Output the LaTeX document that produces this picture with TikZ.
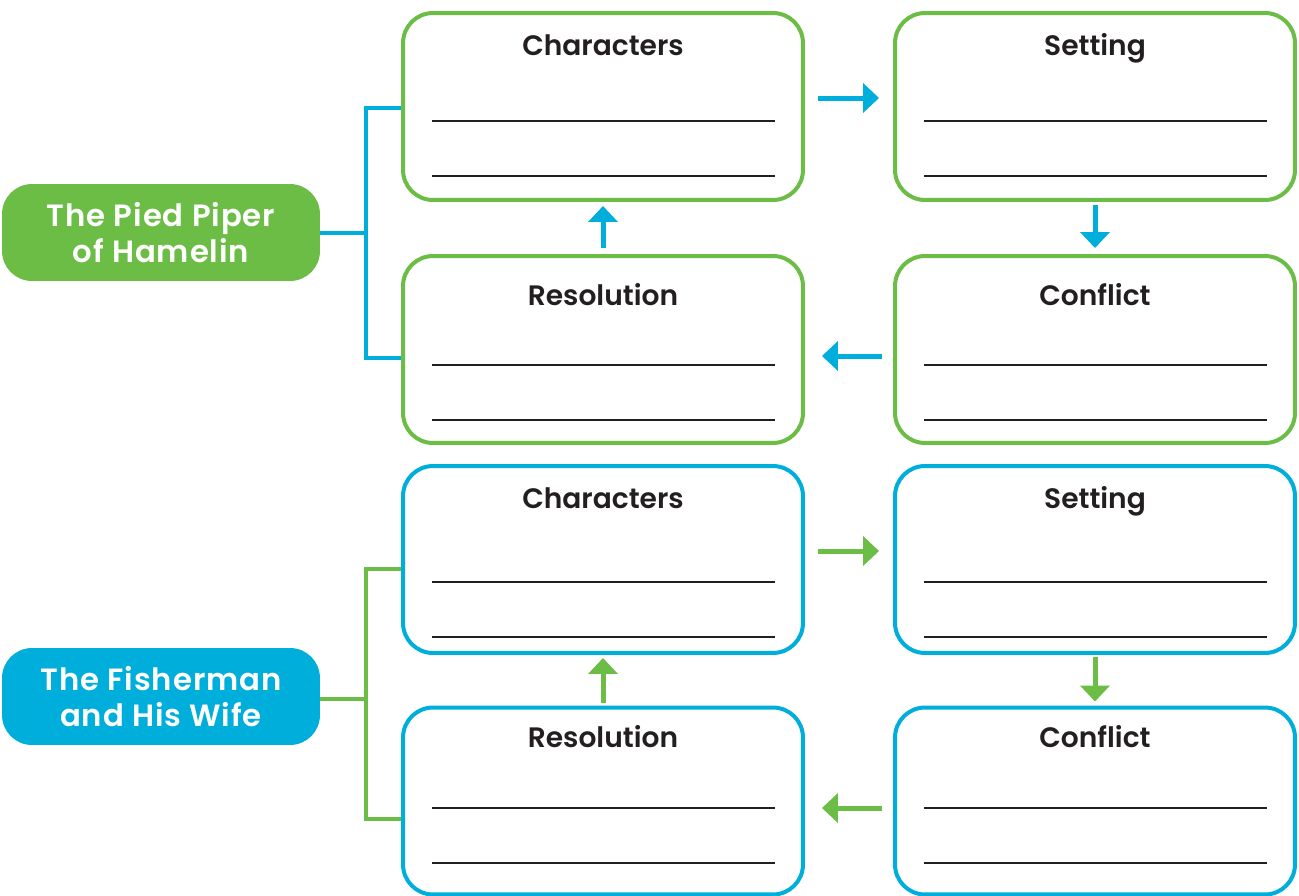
\documentclass[tikz,border=0pt]{standalone}
\usepackage{fontspec}
\setmainfont{Poppins}[BoldFont={Poppins SemiBold}]
\usetikzlibrary{arrows.meta,positioning}

\definecolor{piedgreen}{HTML}{6CBD45}
\definecolor{fishblue}{HTML}{00AEDB}
\definecolor{inkdark}{HTML}{231F20}

\tikzset{
  storybox/.style={draw=#1, line width=0.08cm, rounded corners=0.6cm,
    minimum width=8cm, minimum height=3.74cm, fill=white},
  tale/.style={fill=#1, rounded corners=0.6cm, minimum width=6.36cm,
    minimum height=1.94cm, text=white, align=center,
    font=\bfseries\fontsize{17.5}{20.5}\selectfont\addfontfeature{LetterSpace=3}},
  boxhead/.style={text=inkdark, anchor=base, font=\bfseries\fontsize{16}{18}\selectfont},
  writeline/.style={inkdark, line width=0.04cm},
  flowarrow/.style={draw=#1, line width=0.1cm,
    -{Triangle[length=0.32cm, width=0.58cm]}},
  bracket/.style={draw=#1, line width=0.09cm},
}

\begin{document}
\begin{tikzpicture}[x=0.02cm, y=-0.02cm]
\useasboundingbox (0,0) rectangle (1299,896);

% tale labels
\node[tale=piedgreen] (pp) at (161,232.5) {The Pied Piper\\of Hamelin};
\node[tale=fishblue]  (fw) at (161,696.5) {The Fisherman\\and His Wife};

% story boxes: name/x/y/colour/title/title baseline/lines
\foreach \n/\x/\y/\c/\t/\b/\la/\lb in {
    c1/603/106.5/piedgreen/Characters/55/121/176,
    s1/1095/106.5/piedgreen/Setting/55/121/176,
    r1/603/349.5/piedgreen/Resolution/305/365/420,
    k1/1095/349.5/piedgreen/Conflict/305/365/420,
    c2/603/559.5/fishblue/Characters/508/582/637,
    s2/1095/559.5/fishblue/Setting/508/582/637,
    r2/603/801/fishblue/Resolution/747/808/863,
    k2/1095/801/fishblue/Conflict/747/808/863} {
  \node[storybox=\c] (\n) at (\x,\y) {};
  \node[boxhead] (\n-head) at (\x,\b) {\t};
  \draw[writeline] ([xshift=0.62cm]\n.west |- 0,\la) -- ([xshift=-0.6cm]\n.east |- 0,\la);
  \draw[writeline] ([xshift=0.62cm]\n.west |- 0,\lb) -- ([xshift=-0.6cm]\n.east |- 0,\lb);
}

% brackets
\coordinate (pj) at (366,233);
\coordinate (pt) at (366,108);
\coordinate (pb) at (366,358);
\draw[bracket=fishblue] (pj -| pp.east) -- (pj);
\draw[bracket=fishblue] (pt -| c1.west) -- (pt) -- (pb) -- (pb -| r1.west);

\coordinate (fj) at (366,699);
\coordinate (ft) at (366,569);
\coordinate (fb) at (366,819);
\draw[bracket=piedgreen] (fj -| fw.east) -- (fj);
\draw[bracket=piedgreen] (ft -| c2.west) -- (ft) -- (fb) -- (fb -| r2.west);

% cycle arrows, first tale
\draw[flowarrow=fishblue, shorten <=0.26cm, shorten >=0.28cm]
  ([yshift=0.17cm]c1.east) -- ([yshift=0.17cm]s1.west);
\draw[flowarrow=fishblue, shorten <=0.06cm, shorten >=0.12cm] (s1.south) -- (k1.north);
\draw[flowarrow=fishblue, shorten <=0.22cm, shorten >=0.34cm]
  ([yshift=-0.13cm]k1.west) -- ([yshift=-0.13cm]r1.east);
\draw[flowarrow=fishblue, shorten <=0.12cm, shorten >=0.08cm] (r1.north) -- (c1.south);

% cycle arrows, second tale
\draw[flowarrow=piedgreen, shorten <=0.26cm, shorten >=0.28cm]
  ([yshift=0.17cm]c2.east) -- ([yshift=0.17cm]s2.west);
\draw[flowarrow=piedgreen, shorten <=0.04cm, shorten >=0.08cm] (s2.south) -- (k2.north);
\draw[flowarrow=piedgreen, shorten <=0.22cm, shorten >=0.34cm]
  ([yshift=-0.14cm]k2.west) -- ([yshift=-0.14cm]r2.east);
\draw[flowarrow=piedgreen, shorten <=0.06cm, shorten >=0.06cm] (r2.north) -- (c2.south);
\end{tikzpicture}
\end{document}
